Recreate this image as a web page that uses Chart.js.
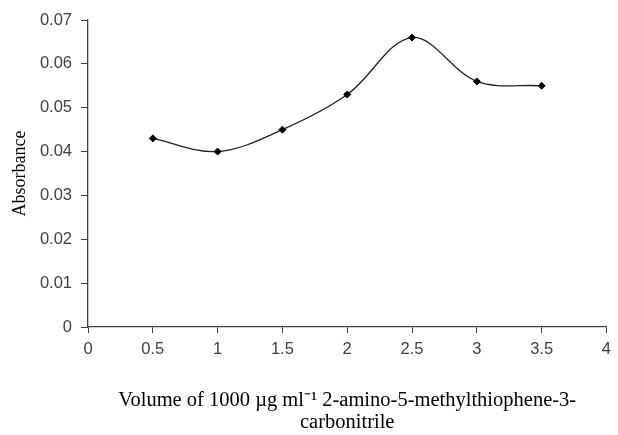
<!DOCTYPE html>
<html>
<head>
<meta charset="utf-8">
<script src="https://cdn.jsdelivr.net/npm/chart.js@4"></script>
<style>
  html, body { margin: 0; padding: 0; background: #fff; }
  #wrap { width: 618px; height: 435px; }
</style>
</head>
<body>
<div id="wrap"><canvas id="myChart" width="618" height="435"></canvas></div>
<script>
// values
var volumes = [0.5, 1, 1.5, 2, 2.5, 3, 3.5];
var absorbance = [0.043, 0.040, 0.045, 0.053, 0.066, 0.056, 0.055];

var xTitle = ["Volume of 1000 \u00b5g ml\u207b\u00b9 2-amino-5-methylthiophene-3-", "carbonitrile"];
var yTitle = "Absorbance";

var axisColor = '#404040';
var tickFont = { family: 'Liberation Sans', size: 16.5 };

function fmt(v) {
    return String(+Number(v).toFixed(2));
}

var ctx = document.getElementById('myChart').getContext('2d');
var chart = new Chart(ctx, {
    type: 'line',
    data: {
        datasets: [{
            label: "Absorbance",
            data: volumes.map(function (v, i) { return { x: v, y: absorbance[i] }; }),
            fill: false,
            tension: 0.35,
            borderColor: '#222',
            borderWidth: 1.3,
            pointStyle: 'rectRot',
            pointRadius: 3.5,
            pointBackgroundColor: '#000',
            pointBorderColor: '#000',
            pointBorderWidth: 1
        }]
    },
    options: {
        responsive: false,
        animation: false,
        layout: { padding: { left: 0, right: 8, top: 20, bottom: 0 } },
        plugins: {
            legend: { display: false },
            tooltip: { enabled: false }
        },
        scales: {
            x: {
                type: 'linear',
                min: 0,
                max: 4,
                ticks: { stepSize: 0.5, color: axisColor, font: tickFont, padding: 7, maxRotation: 0, callback: fmt },
                grid: { drawOnChartArea: false, drawTicks: true, tickLength: 6, color: axisColor },
                border: { display: true, color: axisColor, width: 1.3 },
                title: { display: true, text: xTitle, color: '#000', font: { family: 'Liberation Serif', size: 20.5, lineHeight: 1.05 }, padding: { top: 0, bottom: 2 } },
                afterFit: function (scale) { scale.height = 108; }
            },
            y: {
                min: 0,
                max: 0.07,
                ticks: { stepSize: 0.01, color: axisColor, font: tickFont, padding: 9, callback: fmt },
                grid: { drawOnChartArea: false, drawTicks: true, tickLength: 7, color: axisColor },
                border: { display: true, color: axisColor, width: 1.3 },
                title: { display: true, text: yTitle, color: '#000', font: { family: 'Liberation Serif', size: 18 }, padding: { top: 9, bottom: 0 } },
                afterFit: function (scale) { scale.width = 88; }
            }
        }
    }
});
</script>
</body>
</html>
